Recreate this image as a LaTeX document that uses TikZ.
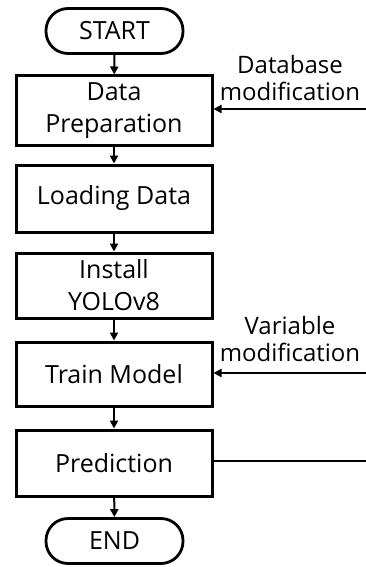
\documentclass[tikz,border=0pt]{standalone}
\usepackage{fontspec}
\setmainfont{Open Sans}
\usetikzlibrary{arrows.meta}
\begin{document}
\begin{tikzpicture}[x=1pt,y=-1pt,
  stepbox/.style={draw, line width=3pt, minimum width=196pt, align=center,
    font=\fontsize{25}{32}\selectfont, inner sep=0pt},
  terminal/.style={draw, line width=2.8pt, rounded corners=22pt, minimum width=137pt,
    minimum height=45pt, font=\fontsize{25}{32}\selectfont, inner sep=0pt},
  flow/.style={line width=2pt, -{Triangle[length=8pt,width=8pt]}},
  plain/.style={line width=2pt},
  note/.style={align=center, font=\fontsize{24}{27}\selectfont, inner sep=0pt}]
\useasboundingbox (0,0) rectangle (366,567);
\fill[white] (0,0) rectangle (366,567);
% main column
\node[terminal] (start) at (114.5,31) {START};
\node[stepbox, minimum height=69pt] (prep) at (114,110.5) {Data\\Preparation};
\node[stepbox, minimum height=67pt] (load) at (114,198.5) {Loading Data};
\node[stepbox, minimum height=65pt] (inst) at (114,285.5) {Install\\YOLOv8};
\node[stepbox, minimum height=64pt] (train) at (114,374) {Train Model};
\node[stepbox, minimum height=66pt] (pred) at (114,463) {Prediction};
\node[terminal] (end) at (114.5,541) {END};
\draw[flow] (start) -- (prep);
\draw[flow] (prep) -- (load);
\draw[flow] (load) -- (inst);
\draw[flow] (inst) -- (train);
\draw[flow] (train) -- (pred);
\draw[flow] (pred) -- (end);
% feedback lines on the right
\coordinate (dbin) at (366,109);
\coordinate (varin) at (366,373);
\coordinate (predout) at (366,461);
\draw[flow] (dbin) -- (prep.east |- dbin);
\draw[flow] (varin) -- (train.east |- varin);
\draw[plain] (pred.east |- predout) -- (predout);
\node[note] (dbnote) at (290,78) {Database\\modification};
\node[note] (varnote) at (290,339) {Variable\\modification};
\end{tikzpicture}
\end{document}
